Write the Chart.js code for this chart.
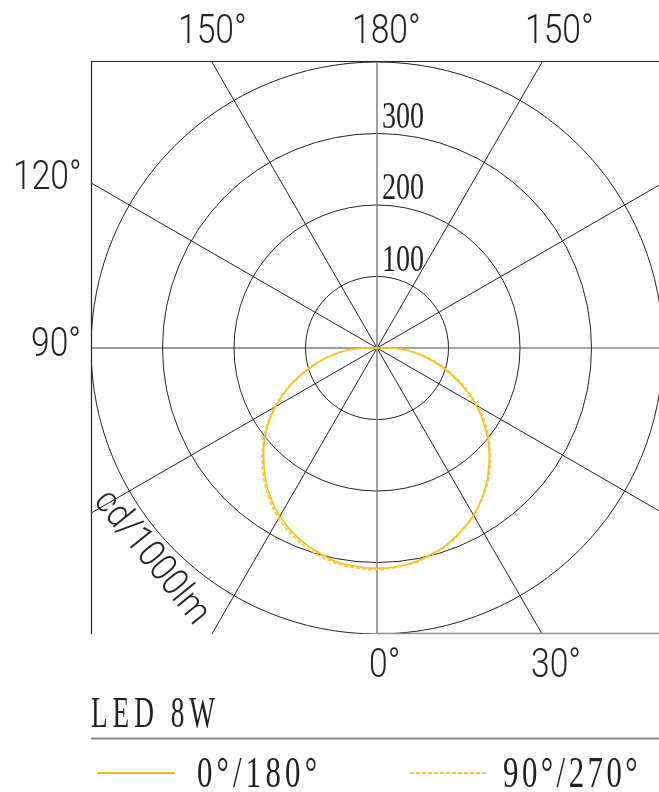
<!DOCTYPE html>
<html>
<head>
<meta charset="utf-8">
<script src="https://cdn.jsdelivr.net/npm/chart.js@4/dist/chart.umd.min.js"></script>
<style>
  html, body { margin: 0; padding: 0; background: #ffffff; }
  canvas { display: block; }
</style>
</head>
<body>
<canvas id="c" width="659" height="792"></canvas>
<script>
// ---- data (cd/1000lm), angle measured from nadir (0°) ----
const ANGLES = [0, 5, 10, 15, 20, 25, 30, 35, 40, 45, 50, 55, 60, 65, 70, 75, 80, 85, 90, 180];
const C0   = [308, 307, 304, 298, 291, 281, 270, 256, 240, 222, 203, 182, 160, 136, 112, 89, 66, 44, 20, 0];
const C180 = [308, 307, 305, 299, 292, 283, 272, 258, 242, 224, 206, 186, 164, 140, 115, 91, 68, 45, 20, 0];
const C90  = [309, 308, 305, 299, 292, 282, 271, 257, 242, 224, 205, 185, 163, 139, 115, 92, 69, 46, 21, 0];
const C270 = [310, 309, 307, 302, 295, 286, 275, 261, 245, 227, 208, 188, 166, 142, 117, 93, 69, 46, 21, 0];

const RINGS = [100, 200, 300, 400];
const RING_LABELS = ['100', '200', '300'];
const SPOKES = [30, 60, 120, 150];
const TITLE = 'LED 8W';
const UNIT = 'cd/1000lm';
const SERIES_NAMES = ['0°/180°', '90°/270°'];

// polar (left half, right half) -> cartesian points
function toPoints(leftVals, rightVals) {
  const pts = [];
  for (let i = ANGLES.length - 1; i >= 0; i--) {
    const a = -ANGLES[i] * Math.PI / 180, r = leftVals[i];
    pts.push({ x: r * Math.sin(a), y: -r * Math.cos(a) });
  }
  for (let i = 1; i < ANGLES.length; i++) {
    const a = ANGLES[i] * Math.PI / 180, r = rightVals[i];
    pts.push({ x: r * Math.sin(a), y: -r * Math.cos(a) });
  }
  return pts;
}

const DARK = '#231f20';
const GRAY = '#8a8a8a';

function txt(ctx, s, x, y, font, sx, opts = {}) {
  ctx.save();
  ctx.translate(x, y);
  if (opts.rot) ctx.rotate(opts.rot);
  ctx.scale(sx, 1);
  ctx.font = font;
  ctx.fillStyle = DARK;
  ctx.textAlign = opts.align || 'left';
  ctx.textBaseline = opts.baseline || 'alphabetic';
  if (opts.ls) ctx.letterSpacing = opts.ls;
  ctx.fillText(s, 0, 0);
  ctx.restore();
}

const polarPlugin = {
  id: 'polarGrid',
  beforeDatasetsDraw(chart) {
    const { ctx, chartArea: a, scales: { x, y } } = chart;
    const cx = x.getPixelForValue(0), cy = y.getPixelForValue(0);
    ctx.save();
    ctx.beginPath();
    ctx.rect(a.left, a.top, a.right - a.left, a.bottom - a.top);
    ctx.clip();
    ctx.strokeStyle = DARK;
    ctx.lineWidth = 1;
    RINGS.forEach(r => {
      ctx.beginPath();
      ctx.arc(cx, cy, x.getPixelForValue(r) - cx, 0, Math.PI * 2);
      ctx.stroke();
    });
    SPOKES.forEach(d => {
      [d, -d].forEach(dd => {
        const t = dd * Math.PI / 180;
        ctx.beginPath();
        ctx.moveTo(cx, cy);
        ctx.lineTo(x.getPixelForValue(1200 * Math.sin(t)), y.getPixelForValue(-1200 * Math.cos(t)));
        ctx.stroke();
      });
    });
    // horizontal 90° line
    ctx.strokeStyle = '#3a3637';
    ctx.beginPath(); ctx.moveTo(a.left, cy); ctx.lineTo(cx, cy); ctx.stroke();
    ctx.strokeStyle = '#4a4748';
    ctx.beginPath(); ctx.moveTo(cx, cy); ctx.lineTo(a.right, cy); ctx.stroke();
    ctx.restore();
    // vertical 0/180 line
    ctx.save();
    ctx.strokeStyle = GRAY;
    ctx.lineWidth = 1.6;
    ctx.beginPath(); ctx.moveTo(cx, a.top); ctx.lineTo(cx, a.bottom); ctx.stroke();
    // bottom line (right of centre)
    ctx.lineWidth = 1.4;
    ctx.beginPath(); ctx.moveTo(cx, a.bottom - 0.5); ctx.lineTo(a.right, a.bottom - 0.5); ctx.stroke();
    // frame top & left
    ctx.strokeStyle = DARK;
    ctx.lineWidth = 1.2;
    ctx.beginPath();
    ctx.moveTo(a.right, a.top - 0.5); ctx.lineTo(a.left + 0.5, a.top - 0.5); ctx.lineTo(a.left + 0.5, a.bottom);
    ctx.stroke();
    ctx.restore();
  },
  afterDraw(chart) {
    const { ctx, scales: { x, y } } = chart;
    const cx = x.getPixelForValue(0);
    const sans = '300 40px Roboto, "Liberation Sans", sans-serif';
    // angle labels
    txt(ctx, '150°', 178, 43, sans, 0.84);
    txt(ctx, '180°', 352, 43, sans, 0.84);
    txt(ctx, '150°', 525, 43, sans, 0.84);
    txt(ctx, '120°', 13, 189, sans, 0.84);
    txt(ctx, '90°', 31, 356, sans, 0.84);
    txt(ctx, '0°', 369, 677, sans, 0.84);
    txt(ctx, '30°', 531, 677, sans, 0.84);
    // ring labels
    const serif = '37px "Liberation Serif", "DejaVu Serif", serif';
    RING_LABELS.forEach(l => {
      const r = parseFloat(l);
      const py = y.getPixelForValue(r);
      txt(ctx, l, cx + 5, py - 6, serif, 0.76);
    });
    // unit label
    txt(ctx, UNIT, 151, 558, '300 38px Roboto, "Liberation Sans", sans-serif', 0.88,
        { rot: 51 * Math.PI / 180, align: 'center', baseline: 'middle' });
    // title
    txt(ctx, TITLE, 91, 727, '44px "Liberation Serif", "DejaVu Serif", serif', 0.62, { ls: '8px' });
    // divider
    ctx.save();
    ctx.strokeStyle = GRAY;
    ctx.lineWidth = 2;
    ctx.beginPath(); ctx.moveTo(91, 738.5); ctx.lineTo(659, 738.5); ctx.stroke();
    // legend
    const ds = chart.data.datasets;
    const items = [{ x0: 97, x1: 175, tx: 197, ls: '6px' }, { x0: 410, x1: 487, tx: 503, ls: '5px' }];
    items.forEach((it, i) => {
      ctx.strokeStyle = ds[i].borderColor;
      ctx.lineWidth = 1.8;
      ctx.setLineDash(ds[i].borderDash || []);
      ctx.beginPath(); ctx.moveTo(it.x0, 773); ctx.lineTo(it.x1, 773); ctx.stroke();
      ctx.setLineDash([]);
      txt(ctx, SERIES_NAMES[i], it.tx, 787, '44px "Liberation Serif", "DejaVu Serif", serif', 0.7, { ls: it.ls });
    });
    ctx.restore();
  }
};

new Chart(document.getElementById('c'), {
  type: 'scatter',
  data: {
    datasets: [
      {
        label: SERIES_NAMES[0],
        data: toPoints(C180, C0),
        showLine: true,
        borderColor: '#f6bd16',
        borderWidth: 1.6,
        pointRadius: 0,
        tension: 0.35,
        order: 2
      },
      {
        label: SERIES_NAMES[1],
        data: toPoints(C270, C90),
        showLine: true,
        borderColor: '#f5c838',
        borderWidth: 1.6,
        borderDash: [4, 2],
        pointRadius: 0,
        tension: 0.35,
        order: 1
      }
    ]
  },
  options: {
    responsive: false,
    animation: false,
    layout: { padding: { left: 91, top: 62, right: 0, bottom: 158 } },
    plugins: { legend: { display: false }, tooltip: { enabled: false }, title: { display: false } },
    scales: {
      x: { type: 'linear', display: false, min: -400, max: 394.4 },
      y: { type: 'linear', display: false, min: -400, max: 400 }
    }
  },
  plugins: [polarPlugin]
});
</script>
</body>
</html>
